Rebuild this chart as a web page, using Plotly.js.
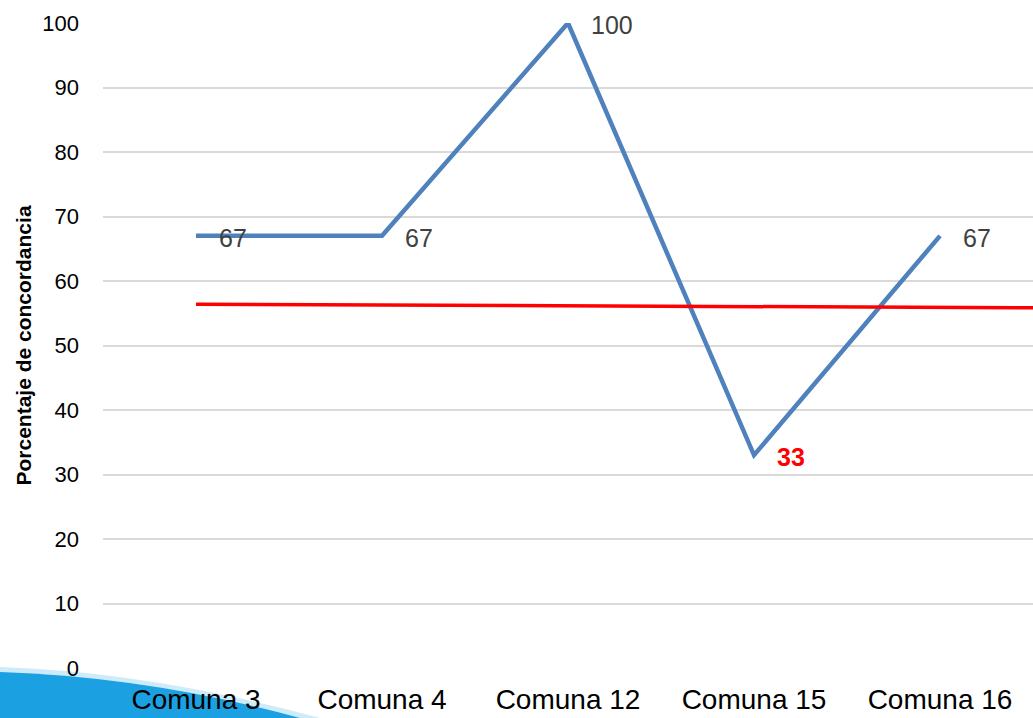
<!DOCTYPE html>
<html>
<head>
<meta charset="utf-8">
<script src="https://cdn.plot.ly/plotly-3.0.1.min.js"></script>
<style>html,body{margin:0;padding:0;background:#fff;}#chart{width:1033px;height:718px;}</style>
</head>
<body>
<div id="chart"></div>
<script>
const categories = ["Comuna 3", "Comuna 4", "Comuna 12", "Comuna 15", "Comuna 16"];
const values = [67, 67, 100, 33, 67];
const refX = [0, 4.5];
const refY = [56.4, 55.85];
const yTicks = [0, 10, 20, 30, 40, 50, 60, 70, 80, 90, 100];

const idx = categories.map((c, i) => i);

const traces = [
  {
    x: idx, y: values, type: "scatter", mode: "lines",
    line: {color: "#4f81bd", width: 4.5},
    cliponaxis: false, hoverinfo: "skip", showlegend: false
  },
  {
    x: refX, y: refY, type: "scatter", mode: "lines",
    line: {color: "#ff0000", width: 3.5},
    cliponaxis: false, hoverinfo: "skip", showlegend: false
  }
];

const labels = values.map((v, i) => {
  const low = v < 50;
  return {
    x: idx[i], y: v, xref: "x", yref: "y",
    text: low ? "<b>" + v + "</b>" : String(v),
    showarrow: false, xanchor: "left", yanchor: "middle",
    xshift: 21, yshift: -2,
    font: {family: "Liberation Sans, Arial, sans-serif", size: 25, color: low ? "#ff0000" : "#404040"}
  };
});

const W = 1033, H = 718, L = 103, R = 0, T = 23, B = 50;
const pw = W - L - R, ph = H - T - B;
const px = x => (x - L) / pw;
const py = y => (H - B - y) / ph;
const swoosh = `M ${px(0)},${py(672)} Q ${px(150)},${py(677)} ${px(300)},${py(718)} L ${px(0)},${py(718)} Z`;
const swooshEdge = `M ${px(0)},${py(667)} Q ${px(150)},${py(672)} ${px(320)},${py(718)} L ${px(0)},${py(718)} Z`;

const layout = {
  width: W, height: H,
  margin: {l: L, r: R, t: T, b: B, pad: 0},
  paper_bgcolor: "#ffffff", plot_bgcolor: "#ffffff",
  font: {family: "Liberation Sans, Arial, sans-serif", color: "#000"},
  xaxis: {
    range: [-0.5, 4.5], tickvals: idx, ticktext: categories,
    showgrid: false, zeroline: false, showline: false, ticks: "",
    tickfont: {size: 28, color: "#000"}, ticklabelstandoff: 12
  },
  yaxis: {
    range: [0, 100], tickvals: yTicks,
    showgrid: true, gridcolor: "#d9d9d9", gridwidth: 2,
    zeroline: false, showline: false, ticks: "",
    tickfont: {size: 22, color: "#000"}, ticklabelstandoff: 23,
    title: {text: "<b>Porcentaje de concordancia</b>", font: {size: 21, color: "#000"}, standoff: 4}
  },
  annotations: labels,
  shapes: [
    {type: "path", xref: "paper", yref: "paper", path: swooshEdge,
     fillcolor: "#cdebf8", line: {width: 0}, layer: "below"},
    {type: "path", xref: "paper", yref: "paper", path: swoosh,
     fillcolor: "#1ba1e2", line: {width: 0}, layer: "below"}
  ]
};

Plotly.newPlot("chart", traces, layout, {displayModeBar: false, staticPlot: true});
</script>
</body>
</html>
